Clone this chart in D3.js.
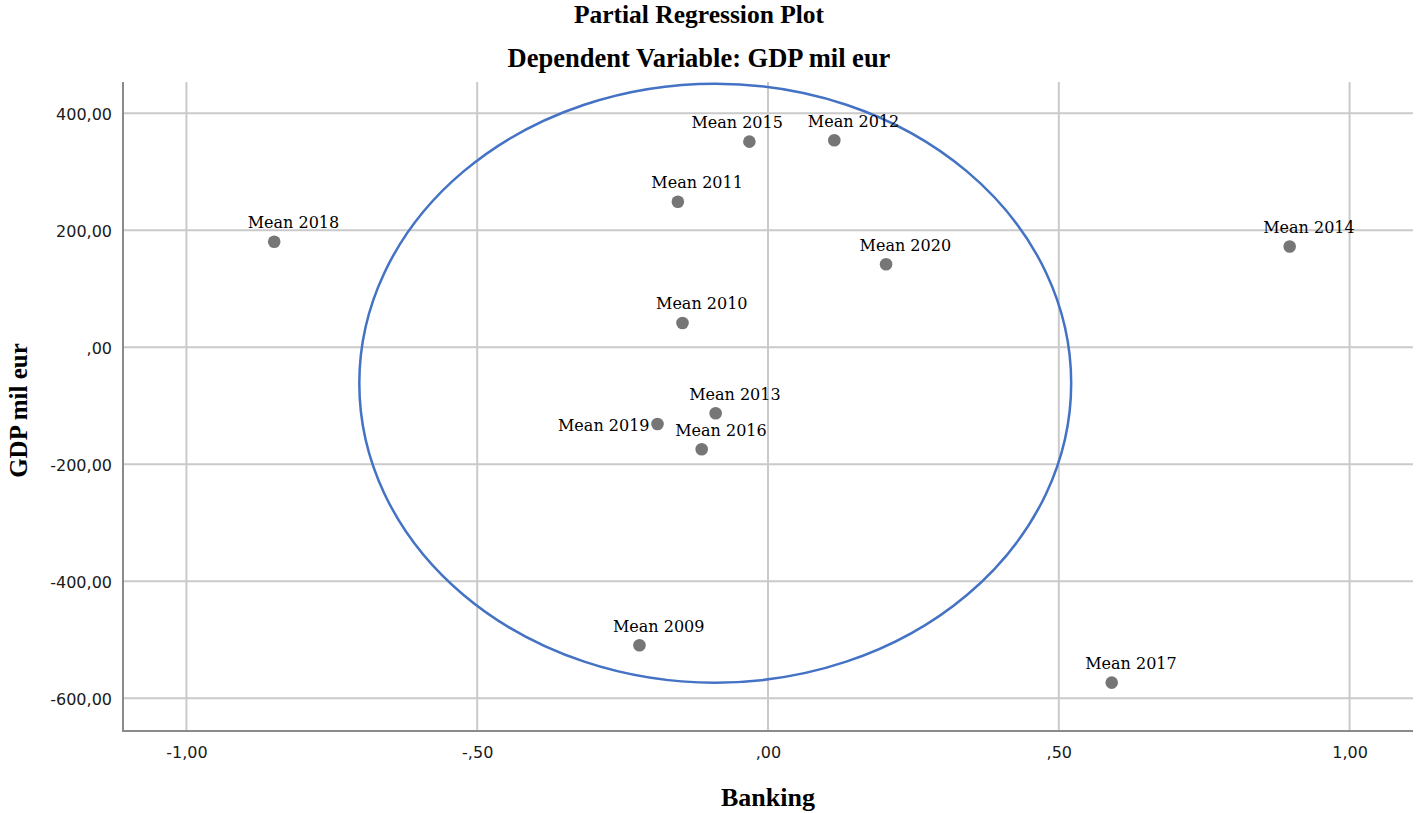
<!DOCTYPE html>
<html>
<head>
<meta charset="utf-8">
<script src="https://cdn.jsdelivr.net/npm/d3@7"></script>
<style>
  html, body { margin: 0; padding: 0; background: #ffffff; }
  svg { display: block; }
</style>
</head>
<body>
<svg id="chart" width="1416" height="813"></svg>
<script>
// ---- Data ----
const labels = ["Mean 2009","Mean 2010","Mean 2011","Mean 2012","Mean 2013","Mean 2014",
                "Mean 2015","Mean 2016","Mean 2017","Mean 2018","Mean 2019","Mean 2020"];
const banking = [-0.221, -0.147, -0.155, 0.114, -0.090, 0.897,
                 -0.032, -0.114, 0.591, -0.849, -0.190, 0.203];
const gdp = [-509.4, 41.5, 248.9, 353.8, -112.8, 172.3,
             351.5, -174.4, -573.3, 180.5, -131.1, 141.9];
const xTicks = [-1.0, -0.5, 0.0, 0.5, 1.0];
const yTicks = [-600, -400, -200, 0, 200, 400];
// ellipse (data units): centre and radii
const ellipseCentre = [-0.0907, -61.4];
const ellipseRadii = [0.612, 512];

(function () {
// ---- Layout ----
const svg = d3.select("#chart");
const pLeft = 123, pRight = 1413, pTop = 82, pBottom = 731;
const x = d3.scaleLinear().domain([-1.109, 1.109]).range([pLeft, pRight]);
const y = d3.scaleLinear().domain([-656, 453.5]).range([pBottom, pTop]);

// SPSS-style number formats: ",00" / "-,50"
function spssFmt(v, dec) {
  let s = Math.abs(v).toFixed(dec).replace(".", ",");
  if (s.startsWith("0,")) s = s.slice(1);
  return (v < 0 ? "-" : "") + s;
}

// gridlines
const gridColor = "#cacaca";
svg.append("g").selectAll("line").data(yTicks).join("line")
  .attr("x1", pLeft).attr("x2", pRight)
  .attr("y1", d => y(d)).attr("y2", d => y(d))
  .attr("stroke", gridColor).attr("stroke-width", 2);
svg.append("g").selectAll("line").data(xTicks).join("line")
  .attr("y1", pTop).attr("y2", pBottom)
  .attr("x1", d => x(d)).attr("x2", d => x(d))
  .attr("stroke", gridColor).attr("stroke-width", 2);

// axes via d3 axis (tick marks hidden, labels styled)
const xAxis = d3.axisBottom(x).tickValues(xTicks).tickSize(0).tickPadding(16)
  .tickFormat(d => spssFmt(d, 2));
const yAxis = d3.axisLeft(y).tickValues(yTicks).tickSize(0).tickPadding(11)
  .tickFormat(d => spssFmt(d, 2));

const gx = svg.append("g").attr("transform", `translate(0,${pBottom})`).call(xAxis);
const gy = svg.append("g").attr("transform", `translate(${pLeft},0)`).call(yAxis);
[gx, gy].forEach(g => {
  g.select(".domain").remove();
  g.selectAll("text")
    .attr("font-family", "'DejaVu Sans', sans-serif")
    .attr("font-size", 16)
    .attr("fill", "#1a1a1a");
});
gy.selectAll("text").attr("dy", "0.36em");

// axis lines
svg.append("line").attr("x1", pLeft).attr("x2", pLeft).attr("y1", pTop).attr("y2", pBottom + 1)
  .attr("stroke", "#8a8a8a").attr("stroke-width", 2);
svg.append("line").attr("x1", pLeft).attr("x2", pRight).attr("y1", pBottom).attr("y2", pBottom)
  .attr("stroke", "#8a8a8a").attr("stroke-width", 2);

// ellipse
svg.append("ellipse")
  .attr("cx", x(ellipseCentre[0])).attr("cy", y(ellipseCentre[1]))
  .attr("rx", x(ellipseRadii[0]) - x(0)).attr("ry", y(0) - y(ellipseRadii[1]))
  .attr("fill", "none").attr("stroke", "#4472c4").attr("stroke-width", 2.5);

// points
const pts = labels.map((l, i) => ({ label: l, bx: banking[i], gy: gdp[i] }));
svg.append("g").selectAll("circle").data(pts).join("circle")
  .attr("cx", d => x(d.bx)).attr("cy", d => y(d.gy)).attr("r", 6.3)
  .attr("fill", "#767676");

// point labels (placement tweaks mirror the reference)
const labelPlacement = {
  "Mean 2015": { dx: -58, dy: -13.5, anchor: "start" },
  "Mean 2019": { dx: -8, dy: 7, anchor: "end" }
};
const defPlace = { dx: -26.5, dy: -13.5, anchor: "start" };
svg.append("g").selectAll("text").data(pts).join("text")
  .each(function(d) {
    const p = labelPlacement[d.label] || defPlace;
    d3.select(this)
      .attr("x", x(d.bx) + p.dx).attr("y", y(d.gy) + p.dy)
      .attr("text-anchor", p.anchor);
  })
  .attr("font-family", "'DejaVu Serif', serif")
  .attr("font-size", 16)
  .attr("fill", "#000")
  .text(d => d.label);

// titles
const titleFont = "'Liberation Serif', 'Times New Roman', serif";
svg.append("text").attr("x", 699).attr("y", 23).attr("text-anchor", "middle")
  .attr("font-family", titleFont).attr("font-weight", "bold").attr("font-size", 25.5)
  .text("Partial Regression Plot");
svg.append("text").attr("x", 699).attr("y", 67).attr("text-anchor", "middle")
  .attr("font-family", titleFont).attr("font-weight", "bold").attr("font-size", 26.5)
  .text("Dependent Variable: GDP mil eur");
svg.append("text").attr("x", (pLeft + pRight) / 2).attr("y", 806).attr("text-anchor", "middle")
  .attr("font-family", titleFont).attr("font-weight", "bold").attr("font-size", 26)
  .text("Banking");
svg.append("text")
  .attr("transform", `translate(27,${(pTop + pBottom) / 2 + 4}) rotate(-90)`)
  .attr("text-anchor", "middle")
  .attr("font-family", titleFont).attr("font-weight", "bold").attr("font-size", 25)
  .text("GDP mil eur");
})();
</script>
</body>
</html>
